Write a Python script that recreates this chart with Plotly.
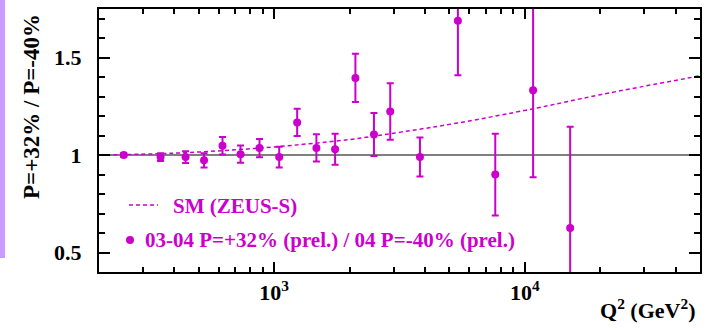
import plotly.graph_objects as go

# ---- data ----
q2 = [251, 352, 443, 525, 622, 734, 874, 1047, 1235, 1474, 1750, 2109, 2501, 2904,
      3816, 5408, 7623, 10790, 15170]
ratio = [1.000, 0.990, 0.990, 0.973, 1.048, 1.005, 1.036, 0.990, 1.168, 1.037, 1.030,
         1.396, 1.106, 1.224, 0.990, 1.690, 0.900, 1.333, 0.626]
err = [0.010, 0.020, 0.030, 0.036, 0.045, 0.044, 0.047, 0.053, 0.070, 0.070, 0.080,
       0.124, 0.110, 0.145, 0.100, 0.280, 0.210, 0.447, 0.520]

sm_q2 = [200, 400, 700, 1000, 2000, 3200, 5400, 10800, 20000, 50000]
sm_val = [1.000, 1.010, 1.027, 1.042, 1.080, 1.118, 1.165, 1.238, 1.310, 1.407]

xmaj_vals = [1000, 10000]
xmaj_text = ["<b>10<sup>3</sup></b>", "<b>10<sup>4</sup></b>"]
xmin_vals = [200, 300, 400, 500, 600, 700, 800, 900, 2000, 3000, 4000, 5000, 6000,
             7000, 8000, 9000, 20000, 30000, 40000]
ymaj_vals = [0.5, 1.0, 1.5]
ymaj_text = ["<b>0.5</b>\u00a0\u00a0", "<b>1</b>\u00a0\u00a0", "<b>1.5</b>\u00a0\u00a0"]
ymin_vals = [0.4, 0.6, 0.7, 0.8, 0.9, 1.1, 1.2, 1.3, 1.4, 1.6, 1.7]

MAG = "#cc00cc"
FONT = "Liberation Serif"

# plot geometry (px)
W, H = 716, 330
L, R, T, B = 99, 16, 9, 58
pw, ph = W - L - R, H - T - B
XR = [2.301, 4.699]
YR = [0.4, 1.75]


def px(x):
    return (x - L) / pw


def py(y):
    return (H - B - y) / ph


fig = go.Figure()

# reference line at 1
fig.add_trace(go.Scatter(x=[200, 50000], y=[1, 1], mode="lines",
                         line=dict(color="#555555", width=1.5),
                         showlegend=False, hoverinfo="skip"))

# SM curve
fig.add_trace(go.Scatter(x=sm_q2, y=sm_val, mode="lines",
                         line=dict(color=MAG, width=1.5, dash="4px,3px", shape="spline"),
                         showlegend=False))

# data
fig.add_trace(go.Scatter(x=q2, y=ratio, mode="markers",
                         marker=dict(color=MAG, size=8),
                         error_y=dict(type="data", array=err, color=MAG,
                                      thickness=2, width=3.5),
                         showlegend=False))

tfont = dict(family=FONT, size=22, color="black")

fig.update_layout(
    template="none",
    xaxis=dict(type="log", range=XR, tickvals=xmaj_vals, ticktext=xmaj_text,
               ticks="inside", ticklen=10, tickcolor="black", tickwidth=2,
               showline=True, linecolor="black", linewidth=2, mirror="allticks",
               showgrid=False, zeroline=False, tickfont=tfont, automargin=False,
               minor=dict(tickvals=xmin_vals, ticks="inside", ticklen=5,
                          tickcolor="black", tickwidth=1.5, showgrid=False)),
    yaxis=dict(range=YR, tickvals=ymaj_vals, ticktext=ymaj_text,
               ticks="inside", ticklen=11, tickcolor="black", tickwidth=2,
               showline=True, linecolor="black", linewidth=2, mirror="allticks",
               showgrid=False, zeroline=False, tickfont=tfont, automargin=False,
               minor=dict(tickvals=ymin_vals, ticks="inside", ticklen=6,
                          tickcolor="black", tickwidth=1.5, showgrid=False)),
)

shapes = [
    # purple side bar
    dict(type="rect", xref="paper", yref="paper", x0=px(0), x1=px(5),
         y0=py(258), y1=py(0), fillcolor="#cc99ff", line=dict(width=0), layer="below"),
    # legend: dashed sample
    dict(type="line", xref="paper", yref="paper", x0=px(129), x1=px(158),
         y0=py(205), y1=py(205), line=dict(color=MAG, width=1.5, dash="4px,3px")),
    # legend: marker sample
    dict(type="circle", xref="paper", yref="paper", x0=px(126), x1=px(134),
         y0=py(244), y1=py(236), fillcolor=MAG, line=dict(width=0)),
]

lfont = dict(family=FONT, size=21, color=MAG)
annotations = [
    dict(text="<b>SM (ZEUS-S)</b>", xref="paper", yref="paper", x=px(171), y=py(206),
         xanchor="left", yanchor="middle", showarrow=False, font=lfont),
    dict(text="<b>03-04 P=+32% (prel.) / 04 P=-40% (prel.)</b>", xref="paper",
         yref="paper", x=px(143), y=py(240), xanchor="left", yanchor="middle",
         showarrow=False, font=lfont),
    dict(text="<b>Q<sup>2</sup> (GeV<sup>2</sup>)</b>", xref="paper", yref="paper",
         x=px(697), y=py(309), xanchor="right", yanchor="middle", showarrow=False,
         font=dict(family=FONT, size=22, color="black")),
    dict(text="<b>P=+32% / P=-40%</b>", xref="paper", yref="paper", x=px(32), y=py(107),
         xanchor="center", yanchor="middle", textangle=-90, showarrow=False,
         font=dict(family=FONT, size=23, color="black")),
]

fig.update_layout(width=W, height=H, margin=dict(l=L, r=R, t=T, b=B),
                  plot_bgcolor="white", paper_bgcolor="white",
                  shapes=shapes, annotations=annotations, showlegend=False)

fig.write_html("out.html")
